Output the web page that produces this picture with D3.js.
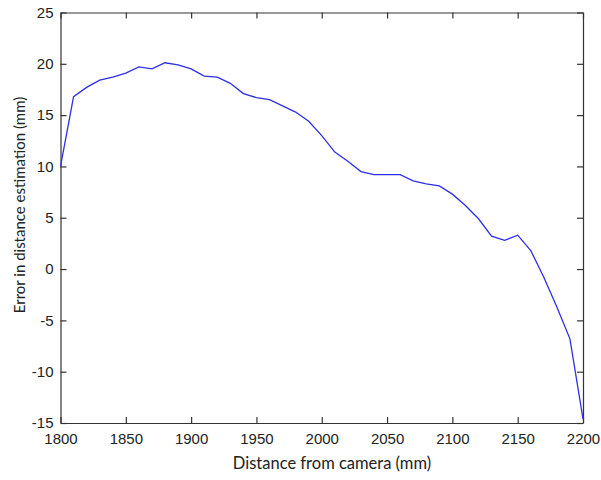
<!DOCTYPE html>
<html>
<head>
<meta charset="utf-8">
<script src="https://cdn.jsdelivr.net/npm/d3@7"></script>
<style>
  body { margin: 0; background: #fff; }
  .axis-title { font-family: Lato, "Open Sans", sans-serif; fill: #222; }
</style>
</head>
<body>
<div id="chart"></div>
<script>
// data
const distance = [1800, 1810, 1820, 1830, 1840, 1850, 1860, 1870, 1880, 1890,
  1900, 1910, 1920, 1930, 1940, 1950, 1960, 1970, 1980, 1990,
  2000, 2010, 2020, 2030, 2040, 2050, 2060, 2070, 2080, 2090,
  2100, 2110, 2120, 2130, 2140, 2150, 2160, 2170, 2180, 2190, 2200];
const error = [10.0, 16.8, 17.7, 18.4, 18.7, 19.1, 19.7, 19.5, 20.1, 19.9,
  19.5, 18.8, 18.7, 18.1, 17.1, 16.7, 16.5, 15.9, 15.3, 14.4,
  13.0, 11.4, 10.5, 9.5, 9.2, 9.2, 9.2, 8.6, 8.3, 8.1,
  7.3, 6.2, 4.9, 3.2, 2.8, 3.3, 1.8, -0.8, -3.7, -6.8, -14.6];
const xTicks = [1800, 1850, 1900, 1950, 2000, 2050, 2100, 2150, 2200];
const yTicks = [-15, -10, -5, 0, 5, 10, 15, 20, 25];

const svgWidth = 601;
const svgHeight = 480;
const margin = { top: 12.5, right: 18, bottom: 57, left: 60.5 };
const width = svgWidth - margin.left - margin.right;
const height = svgHeight - margin.top - margin.bottom;

const svg = d3.select("#chart")
  .append("svg")
  .attr("width", svgWidth)
  .attr("height", svgHeight);

const chartGroup = svg.append("g")
  .attr("transform", `translate(${margin.left}, ${margin.top})`);

const x = d3.scaleLinear().domain([1800, 2200]).range([0, width]);
const y = d3.scaleLinear().domain([-15, 25]).range([height, 0]);

const plain = d => String(d); // "-15" with a plain hyphen, no thousands comma

// bottom + top axes (ticks pointing inward)
chartGroup.append("g")
  .attr("class", "x-axis")
  .attr("transform", `translate(0, ${height})`)
  .call(d3.axisBottom(x).tickValues(xTicks).tickFormat(plain).tickSize(-6).tickPadding(10).tickSizeOuter(0));

chartGroup.append("g")
  .call(d3.axisTop(x).tickValues(xTicks).tickSize(-6).tickSizeOuter(0))
  .call(g => g.selectAll(".tick text").remove());

// left + right axes
chartGroup.append("g")
  .attr("class", "y-axis")
  .call(d3.axisLeft(y).tickValues(yTicks).tickFormat(plain).tickSize(-6).tickPadding(7).tickSizeOuter(0));

chartGroup.append("g")
  .attr("transform", `translate(${width}, 0)`)
  .call(d3.axisRight(y).tickValues(yTicks).tickSize(-6).tickSizeOuter(0))
  .call(g => g.selectAll(".tick text").remove());

chartGroup.selectAll(".domain, .tick line")
  .attr("stroke", "#333")
  .attr("stroke-width", 1.2);

chartGroup.selectAll(".x-axis, .y-axis")
  .attr("font-family", "Liberation Sans, Arial, sans-serif")
  .attr("font-size", 15);
chartGroup.selectAll(".tick text").attr("fill", "#222");

// the curve
const line = d3.line()
  .x((d, i) => x(distance[i]))
  .y(d => y(d));

chartGroup.append("path")
  .datum(error)
  .attr("fill", "none")
  .attr("stroke", "#2f2fe8")
  .attr("stroke-width", 1.3)
  .attr("d", line);

// axis titles
svg.append("text")
  .attr("class", "axis-title")
  .attr("x", 332)
  .attr("y", 469)
  .attr("font-size", 16.5)
  .attr("text-anchor", "middle")
  .text("Distance from camera (mm)");

svg.append("text")
  .attr("class", "axis-title")
  .attr("transform", "translate(25, 205) rotate(-90)")
  .attr("font-size", 15)
  .attr("text-anchor", "middle")
  .text("Error in distance estimation (mm)");
</script>
</body>
</html>
